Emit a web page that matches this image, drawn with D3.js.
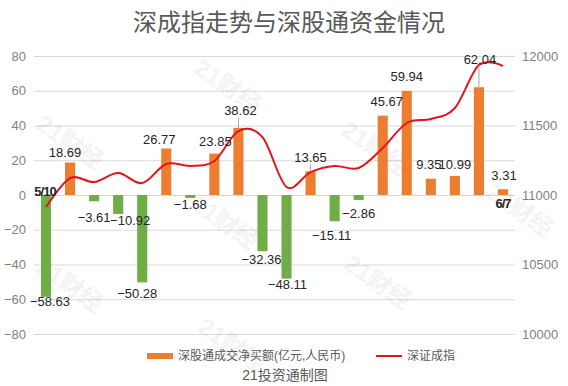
<!DOCTYPE html>
<html>
<head>
<meta charset="utf-8">
<script src="https://cdn.jsdelivr.net/npm/d3@7/dist/d3.min.js"></script>
<style>
body{margin:0;background:#fff;}
text{font-family:"Liberation Sans",Arial,"Noto Sans CJK SC",sans-serif;}
</style>
</head>
<body>
<svg width="568" height="386"></svg>
<script>
// data
var dates = ['5/10','5/11','5/14','5/15','5/16','5/17','5/18','5/21','5/23','5/24',
             '5/25','5/28','5/29','5/30','5/31','6/1','6/4','6/5','6/6','6/7'];
var netBuy = [-58.63, 18.69, -3.61, -10.92, -50.28, 26.77, -1.68, 23.85, 38.62, -32.36,
              -48.11, 13.65, -15.11, -2.86, 45.67, 59.94, 9.35, 10.99, 62.04, 3.31];
var szIndex = [10914, 11122, 11093, 11158, 11086, 11223, 11209, 11245, 11460, 11417,
               11058, 11165, 11209, 11194, 11338, 11518, 11547, 11626, 11935, 11928];
var leftTicks = [-80, -60, -40, -20, 0, 20, 40, 60, 80];
var rightTicks = [10000, 10500, 11000, 11500, 12000];

// hand placement of the value labels, as in the original (dx, dy, leader line)
var labelShift = [[4,-5,0],[-5,0,0],[0,6,0],[12,-3,0],[-5,1,0],[-7,1,0],[0,-3,0],[1,-2,0],
                  [2,-7,1],[-1,-2,0],[1,-4,0],[0,-4,1],[-3,4,0],[0,4,0],[4,-4,0],[0,-4,0],
                  [-2,-4,0],[0,-1,0],[1,-18,1],[1,-4,0]];

var svg = d3.select('svg');
var pLeft = 34, pRight = 515, pTop = 56, pBottom = 334;
var fmt = d3.format('.2f');
var minus = s => s.replace('-', '\u2212');

var x = d3.scaleBand().domain(dates).range([pLeft, pRight]);
var yL = d3.scaleLinear().domain([-80, 80]).range([pBottom, pTop]);
var yR = d3.scaleLinear().domain([10000, 12000]).range([pBottom, pTop]);
var bw = x.bandwidth() * 0.42;
var cx = d => x(d) + x.bandwidth() / 2;

// title
svg.append('text')
	.attr('x', 289).attr('y', 22)
	.attr('text-anchor', 'middle').attr('dominant-baseline', 'central')
	.style('font-size', '24px').style('fill', '#595959')
	.text('深成指走势与深股通资金情况');

// left axis + grid
var gl = svg.append('g').attr('transform', `translate(${pLeft},0)`)
	.call(d3.axisLeft(yL).tickValues(leftTicks).tickSize(-(pRight - pLeft)).tickPadding(8));
gl.select('.domain').remove();
gl.selectAll('line').attr('stroke', '#d9d9d9');
gl.selectAll('text').style('font-size', '13px').style('fill', '#7f7f7f');

// right axis
var gr = svg.append('g').attr('transform', `translate(${pRight},0)`)
	.call(d3.axisRight(yR).tickValues(rightTicks).tickSize(0).tickPadding(7).tickFormat(d3.format('d')));
gr.select('.domain').remove();
gr.selectAll('text').style('font-size', '13px').style('fill', '#7f7f7f');

// watermark
var marks = [[70,142],[228,86],[375,148],[70,285],[225,222],[378,282],[232,345],[520,210]];
svg.append('g').selectAll('text').data(marks).enter().append('text')
	.attr('transform', d => `translate(${d[0]},${d[1]}) rotate(35)`)
	.attr('text-anchor', 'middle').attr('dominant-baseline', 'central')
	.style('font-size', '24px').style('font-weight', 'bold')
	.style('fill', '#000').style('opacity', 0.045)
	.text('21财经');

// bars
svg.append('g').selectAll('rect').data(netBuy).enter().append('rect')
	.attr('x', (d, i) => cx(dates[i]) - bw / 2)
	.attr('y', d => yL(Math.max(d, 0)))
	.attr('width', bw)
	.attr('height', d => Math.abs(yL(d) - yL(0)))
	.attr('fill', d => d < 0 ? '#70ad47' : '#ed7d31');

// index line
var line = d3.line()
	.x((d, i) => cx(dates[i]))
	.y(d => yR(d))
	.curve(d3.curveCardinal.tension(0));
svg.append('path').datum(szIndex)
	.attr('d', line)
	.attr('fill', 'none')
	.attr('stroke', '#e3141b')
	.attr('stroke-width', 2);

// value labels
var lab = svg.append('g');
netBuy.forEach(function (d, i) {
	var s = labelShift[i];
	var end = yL(d);
	var lx = cx(dates[i]) + s[0];
	var ly = (d < 0 ? end + 10 : end - 10) + s[1];
	if (s[2]) {
		lab.append('line')
			.attr('x1', cx(dates[i])).attr('x2', cx(dates[i]))
			.attr('y1', ly + 7).attr('y2', end)
			.attr('stroke', '#a6a6a6');
	}
	lab.append('text')
		.attr('x', lx).attr('y', ly)
		.attr('text-anchor', 'middle').attr('dominant-baseline', 'central')
		.style('font-size', '13px').style('fill', '#262626')
		.text(minus(fmt(d)));
});

// first / last date
[0, dates.length - 1].forEach(function (i) {
	svg.append('text')
		.attr('x', cx(dates[i]) - (i === 0 ? 1 : 0))
		.attr('y', yL(0) + (netBuy[i] < 0 ? -4 : 8))
		.attr('text-anchor', 'middle').attr('dominant-baseline', 'central')
		.style('font-size', '13px').style('font-weight', 'bold')
		.style('letter-spacing', '-1px').style('fill', '#262626')
		.text(dates[i]);
});

// legend
var lg = svg.append('g');
lg.append('rect').attr('x', 147).attr('y', 353).attr('width', 26).attr('height', 6).attr('fill', '#ed7d31');
lg.append('text').attr('x', 178).attr('y', 356).attr('dominant-baseline', 'central')
	.style('font-size', '12px').style('fill', '#595959').text('深股通成交净买额(亿元,人民币)');
lg.append('line').attr('x1', 376).attr('x2', 402).attr('y1', 356).attr('y2', 356)
	.attr('stroke', '#e3141b').attr('stroke-width', 2);
lg.append('text').attr('x', 407).attr('y', 356).attr('dominant-baseline', 'central')
	.style('font-size', '12px').style('fill', '#595959').text('深证成指');
svg.append('text').attr('x', 285).attr('y', 375)
	.attr('text-anchor', 'middle').attr('dominant-baseline', 'central')
	.style('font-size', '14px').style('fill', '#595959').text('21投资通制图');
</script>
</body>
</html>
